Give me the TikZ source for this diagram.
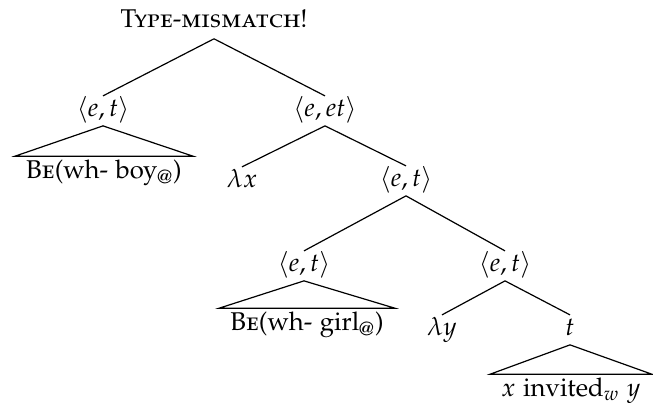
\documentclass[tikz,border=0pt]{standalone}
\usepackage[T1]{fontenc}
\usepackage[sc]{mathpazo}
\usepackage{amsmath}
\usepackage{tikz}
\usetikzlibrary{positioning}

\begin{document}
\begin{tikzpicture}[
        x=0.4167pt, y=-0.4167pt,
        font=\fontsize{10.7pt}{13pt}\selectfont,
        cat/.style={anchor=base, inner sep=0pt, outer sep=1pt, text height=7.8pt, text depth=2.7pt},
        leaf/.style={anchor=base, inner xsep=4.5pt, inner ysep=0pt, text height=9.3pt, text depth=2.7pt},
        edge/.style={line width=0.5pt}
      ]
\useasboundingbox (0,0) rectangle (653,403);

\node[cat, text depth=3.5pt] (root) at (214,28) {\textsc{Type-mismatch!}};
      \node[cat] (et1) at (103,117) {$\langle e,t\rangle$};
      \node[cat] (eet) at (325,117) {$\langle e,et\rangle$};
      \node[leaf] (boy) at (104,179) {\textsc{Be}(wh- boy$_\text{@}$)};
      \node[cat] (lx) at (242,188) {$\lambda x$};
      \node[cat] (et2) at (406,187) {$\langle e,t\rangle$};
      \node[cat] (et3) at (304,272) {$\langle e,t\rangle$};
      \node[cat] (et4) at (505,272) {$\langle e,t\rangle$};
      \node[leaf] (girl) at (307,331) {\textsc{Be}(wh- girl$_\text{@}$)};
      \node[cat] (ly) at (442,336) {$\lambda y$};
      \node[cat] (t) at (570,336) {$t$};
      \node[leaf] (inv) at (571,397) {$x$ invited$_w$ $y$};

\draw[edge] (root.south) -- (et1.north);
      \draw[edge] (root.south) -- (eet.north);
      \draw[edge] (et1.south) -- (boy.north west) -- (boy.north east) -- cycle;

\draw[edge] (eet.south) -- (lx.north);
      \draw[edge] (eet.south) -- (et2.north);

\draw[edge] (et2.south) -- (et3.north);
      \draw[edge] (et2.south) -- (et4.north);
      \draw[edge] (et3.south) -- (girl.north west) -- (girl.north east) -- cycle;

\draw[edge] (et4.south) -- (ly.north);
      \draw[edge] (et4.south) -- (t.north);
      \draw[edge] (t.south) -- (inv.north west) -- (inv.north east) -- cycle;

      \end{tikzpicture}
\end{document}
